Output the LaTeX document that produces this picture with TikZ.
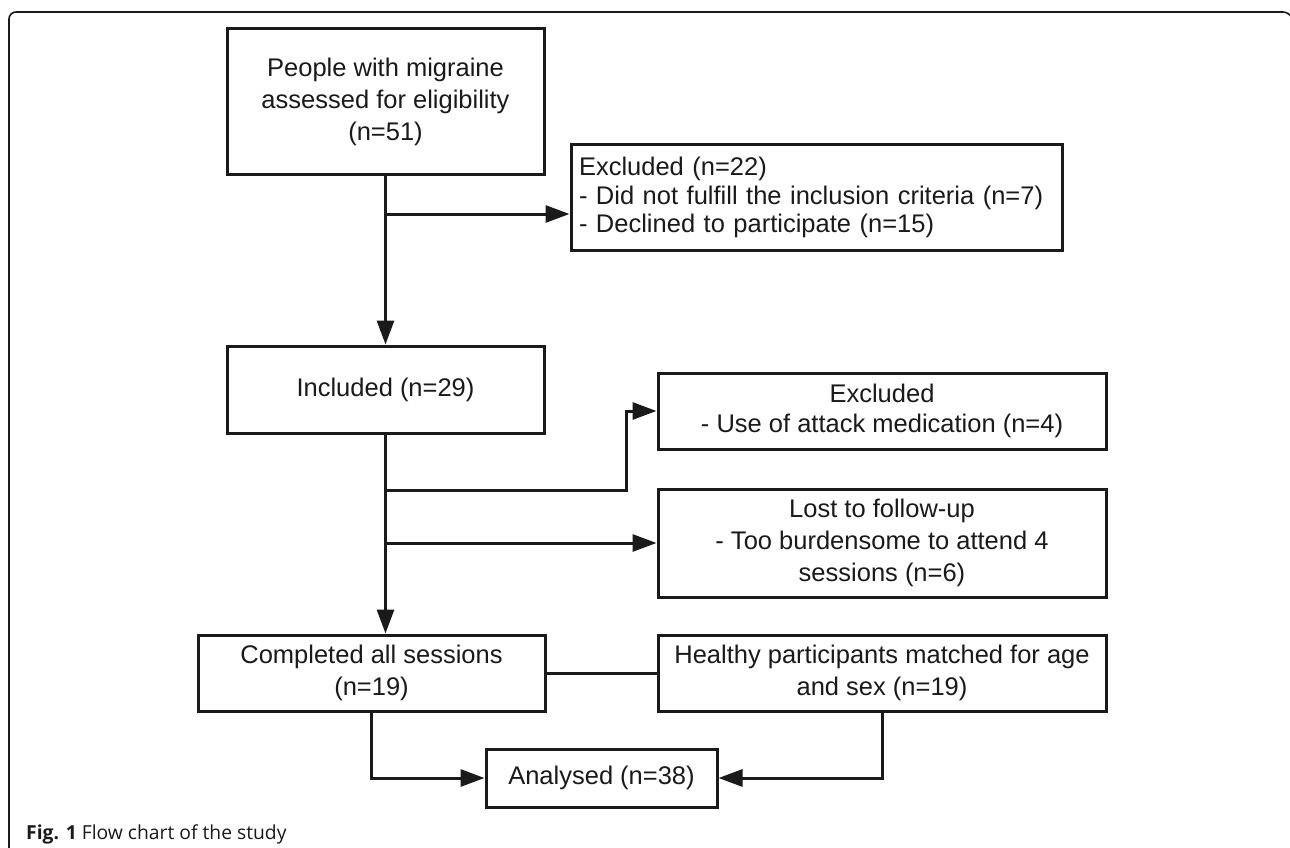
\documentclass[tikz,border=0pt]{standalone}
\usepackage{fontspec}
\setmainfont{Liberation Sans}
\newfontfamily\capfont{Open Sans}
\usetikzlibrary{arrows.meta,calc}
\definecolor{ink}{HTML}{1A1A1A}
\begin{document}
\begin{tikzpicture}[x=1pt,y=-1pt,
  box/.style={draw=ink,line width=3pt,inner sep=0pt,text=ink,align=center,
    font=\fontsize{25.5}{32}\selectfont},
  conn/.style={draw=ink,line width=3pt},
  arr/.style={conn,-{Triangle[length=24pt,width=17pt]}},
  frame/.style={draw=ink,line width=1.6pt,rounded corners=7pt}]
\useasboundingbox (0,0) rectangle (1290,848);
\clip (0,0) rectangle (1290,848);
\fill[white] (0,0) rectangle (1290,848);
\draw[frame] (9,860) -- (9,12) -- (1290,12) -- (1296,30);

% boxes
\node[box,minimum width=317pt,minimum height=145pt] (b1) at (385.5,101.5)
  {People with migraine\\assessed for eligibility\\(n=51)};
\node[box,minimum width=491pt,minimum height=105pt,text width=475pt,align=left,
  font=\fontsize{25.5}{28.5}\selectfont] (ex1) at (816.5,197.5)
  {Excluded (n=22)\\- Did not fulfill the inclusion criteria (n=7)\\- Declined to participate (n=15)};
\node[box,minimum width=317pt,minimum height=87pt] (inc) at (385.5,389.5)
  {Included (n=29)};
\node[box,minimum width=448pt,minimum height=76pt,font=\fontsize{25.5}{30}\selectfont] (ex2) at (882,411)
  {Excluded\\- Use of attack medication (n=4)};
\node[box,minimum width=448pt,minimum height=108pt] (lost) at (882,543)
  {Lost to follow-up\\- Too burdensome to attend 4\\sessions (n=6)};
\node[box,minimum width=347pt,minimum height=76pt] (comp) at (371.5,673)
  {Completed all sessions\\(n=19)};
\node[box,minimum width=448pt,minimum height=76pt] (hea) at (882,673)
  {Healthy participants matched for age\\and sex (n=19)};
\node[box,minimum width=231pt,minimum height=58pt] (ana) at (601.5,778)
  {Analysed (n=38)};

% junction coordinates
\coordinate (j1) at (385.5,214);
\coordinate (j2) at (385.5,490);
\coordinate (k2) at (626,490);
\coordinate (j3) at (385.5,543);
\coordinate (c1) at (371.5,778);
\coordinate (h1) at (882,778);

% connectors
\draw[arr] (b1.south) -- (inc.north);
\draw[arr] (j1) -- (j1 -| ex1.west);
\draw[arr] (inc.south) -- (inc.south |- comp.north);
\draw[arr] (j2) -- (k2) |- (ex2.west);
\draw[arr] (j3) -- (lost.west);
\draw[conn] (comp.east) -- (hea.west);
\draw[arr] (comp.south) -- (c1) -- (ana.west);
\draw[arr] (hea.south) -- (h1) -- (ana.east);

% caption
\node[anchor=base west,inner sep=0pt,text=ink] (cap) at (26,839)
  {\capfont\fontsize{19.3}{23}\selectfont\textbf{Fig. 1} Flow chart of the study};
\end{tikzpicture}
\end{document}
